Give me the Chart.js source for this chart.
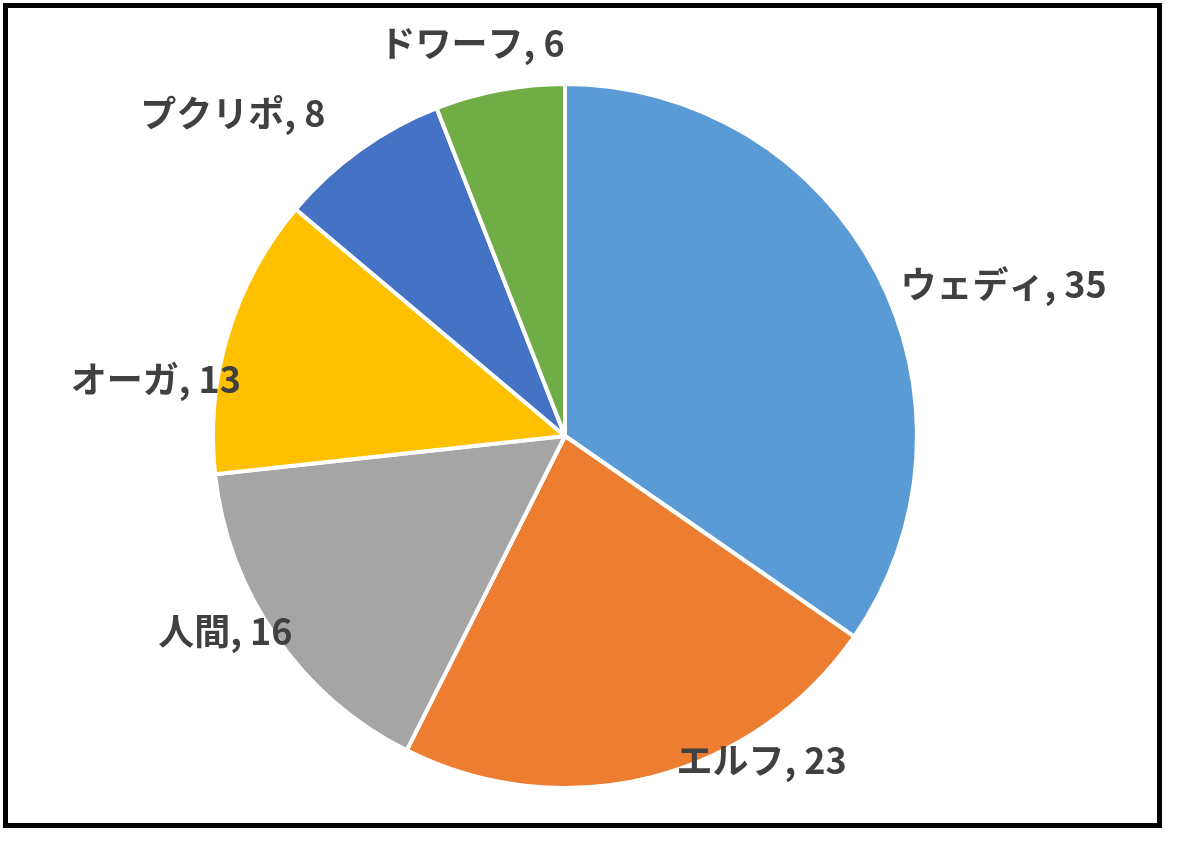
<!DOCTYPE html>
<html>
<head>
<meta charset="utf-8">
<script src="https://cdn.jsdelivr.net/npm/chart.js@4"></script>
<style>
  html, body { margin: 0; padding: 0; background: #fff; }
  #wrap { position: relative; width: 1180px; height: 842px; }
  #frame {
    position: absolute; left: 3px; top: 3px; width: 1149px; height: 815px;
    border: 5px solid #000;
  }
  canvas { position: absolute; left: 0; top: 0; }
</style>
</head>
<body>
<div id="wrap">
  <canvas id="pieChart" width="1180" height="842"></canvas>
  <div id="frame"></div>
</div>
<script>
// ======================
// データ
// ======================
const races = ["ウェディ", "エルフ", "人間", "オーガ", "プクリポ", "ドワーフ"];
const counts = [35, 23, 16, 13, 8, 6];
const sliceColors = ["#5B9BD5", "#ED7D31", "#A5A5A5", "#FFC000", "#4472C4", "#70AD47"];

// ラベル位置の微調整 (角度のずれ[度], 円周からの距離[px])
const labelTurn = [8.6, -17, 4.8, -9.1, -10.2, -2.6];
const labelGap = [112, 27, 40, 61, 111, 52];

// ======================
// 外側ラベルを描くプラグイン
// ======================
const outsideLabels = {
  id: "outsideLabels",
  afterDatasetsDraw(chart) {
    const ctx = chart.ctx;
    const meta = chart.getDatasetMeta(0);
    ctx.save();
    ctx.font = "bold 36px 'Noto Sans CJK JP'";
    ctx.fillStyle = "#404040";
    ctx.textAlign = "center";
    ctx.textBaseline = "middle";
    meta.data.forEach((arc, i) => {
      const p = arc.getProps(["x", "y", "startAngle", "endAngle", "outerRadius"], true);
      const mid = (p.startAngle + p.endAngle) / 2 + labelTurn[i] * Math.PI / 180;
      const d = p.outerRadius + labelGap[i];
      const x = p.x + Math.cos(mid) * d;
      const y = p.y + Math.sin(mid) * d;
      ctx.fillText(races[i] + ", " + counts[i], x, y);
    });
    ctx.restore();
  }
};

const ctx = document.getElementById("pieChart").getContext("2d");
new Chart(ctx, {
  type: "pie",
  data: {
    labels: races,
    datasets: [{
      data: counts,
      backgroundColor: sliceColors,
      borderColor: "#ffffff",
      borderWidth: 4,
      radius: 352
    }]
  },
  options: {
    responsive: false,
    animation: false,
    layout: { padding: { left: 165, right: 215, top: 56, bottom: 26 } },
    plugins: {
      legend: { display: false },
      tooltip: { enabled: false }
    }
  },
  plugins: [outsideLabels]
});
</script>
</body>
</html>
